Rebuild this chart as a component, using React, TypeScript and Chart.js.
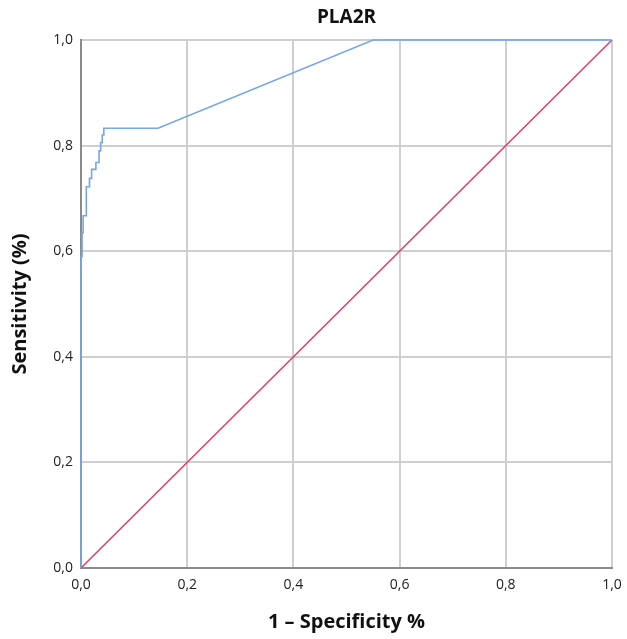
import React, { useEffect, useRef } from "react";
import { Chart, registerables } from "chart.js";

Chart.register(...registerables);

const chartTitle = "PLA2R";
const xAxisTitle = "1 – Specificity %";
const yAxisTitle = "Sensitivity (%)";

// ROC curve (1 - specificity, sensitivity)
const rocFpr = [0, 0, 0.002, 0.002, 0.004, 0.004, 0.01, 0.01, 0.016, 0.016, 0.02, 0.02, 0.028, 0.028, 0.034, 0.034, 0.037, 0.037, 0.04, 0.04, 0.043, 0.043, 0.046, 0.145, 0.55, 1.0];
const rocTpr = [0, 0.59, 0.59, 0.635, 0.635, 0.667, 0.667, 0.722, 0.722, 0.738, 0.738, 0.755, 0.755, 0.768, 0.768, 0.79, 0.79, 0.806, 0.806, 0.82, 0.82, 0.833, 0.833, 0.833, 1.0, 1.0];

// Reference diagonal
const refX = [0, 1];
const refY = [0, 1];

const tickValues = [0, 0.2, 0.4, 0.6, 0.8, 1.0];

const fmt = (v: number) => v.toFixed(1).replace(".", ",");

export default function App() {
  const ref = useRef<HTMLCanvasElement | null>(null);

  useEffect(() => {
    if (!ref.current) return;
    const titlePlugin = {
      id: "centerTitle",
      afterDraw(chart: any) {
        const { ctx, chartArea } = chart;
        ctx.save();
        ctx.font = "bold 19px 'Open Sans', sans-serif";
        ctx.fillStyle = "#111";
        ctx.textAlign = "center";
        ctx.textBaseline = "middle";
        ctx.fillText(chartTitle, (chartArea.left + chartArea.right) / 2, 18);
        ctx.restore();
      },
    };
    const chart = new Chart(ref.current, {
      type: "scatter",
      data: {
        datasets: [
          {
            data: rocFpr.map((x, i) => ({ x, y: rocTpr[i] })),
            showLine: true,
            borderColor: "#73a6ec",
            borderWidth: 1.6,
            pointRadius: 0,
            tension: 0,
            clip: 5,
          },
          {
            data: refX.map((x, i) => ({ x, y: refY[i] })),
            showLine: true,
            borderColor: "#e23a68",
            borderWidth: 1.5,
            pointRadius: 0,
            clip: 5,
          },
        ],
      },
      plugins: [titlePlugin],
      options: {
        animation: false,
        responsive: false,
        layout: { padding: { top: 40, right: 15, left: 0, bottom: 0 } },
        plugins: { legend: { display: false }, tooltip: { enabled: false }, title: { display: false } },
        scales: {
          x: {
            type: "linear",
            min: 0,
            max: 1,
            afterBuildTicks: (s: any) => { s.ticks = tickValues.map((v) => ({ value: v })); },
            afterFit: (s: any) => { s.height = 71; s.paddingLeft = 0; s.paddingRight = 0; },
            ticks: {
              callback: (v: any) => fmt(Number(v)),
              font: { family: "'Open Sans', sans-serif", size: 14 },
              color: "#222",
              padding: 9,
              maxRotation: 0,
            },
            grid: { color: "#cfcfcf", lineWidth: 2, drawTicks: false },
            border: { color: "#8a8a8a", width: 2 },
            title: {
              display: true,
              text: xAxisTitle,
              font: { family: "'Open Sans', sans-serif", size: 20, weight: "bold" },
              color: "#111",
              padding: { top: 0, bottom: 5 },
            },
          },
          y: {
            type: "linear",
            min: 0,
            max: 1,
            afterBuildTicks: (s: any) => { s.ticks = tickValues.map((v) => ({ value: v })); },
            afterFit: (s: any) => { s.width = 81; s.paddingTop = 0; s.paddingBottom = 0; },
            ticks: {
              callback: (v: any) => fmt(Number(v)),
              font: { family: "'Open Sans', sans-serif", size: 14 },
              color: "#222",
              padding: 8,
            },
            grid: { color: "#cfcfcf", lineWidth: 2, drawTicks: false },
            border: { color: "#8a8a8a", width: 2 },
            title: {
              display: true,
              text: yAxisTitle,
              font: { family: "'Open Sans', sans-serif", size: 20, weight: "bold" },
              color: "#111",
              padding: { top: 8, bottom: 0 },
            },
          },
        },
      },
    });
    return () => chart.destroy();
  }, []);

  return (
    <div style={{ position: "fixed", left: 0, top: 0, width: 627, height: 639, background: "#fff" }}>
      <canvas ref={ref} width={627} height={639} style={{ width: 627, height: 639 }} />
    </div>
  );
}
